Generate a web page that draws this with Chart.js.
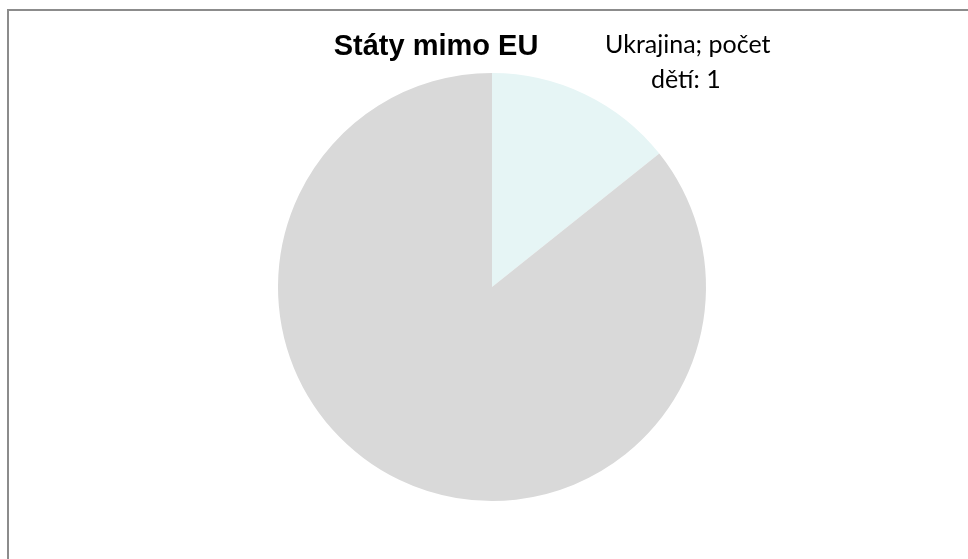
<!DOCTYPE html>
<html>
<head>
<meta charset="utf-8">
<script src="https://cdn.jsdelivr.net/npm/chart.js@4/dist/chart.umd.min.js"></script>
<style>
  html, body { margin: 0; padding: 0; background: #fff; }
  #wrap { width: 968px; height: 559px; position: relative; }
</style>
</head>
<body>
<div id="wrap"><canvas id="graf"></canvas></div>
<script>
const kategorie = ['Ukrajina', 'Ostatní'];
const pocetDeti = [1, 6];
const barvy = ['#E6F5F5', '#D9D9D9'];
const nadpis = 'Státy mimo EU';

// ramecek (jen horni a leva hrana, graf je oriznuty)
const ramecek = {
    id: 'ramecek',
    beforeDraw(chart) {
        const c = chart.ctx;
        c.save();
        c.strokeStyle = '#8C8C8C';
        c.lineWidth = 2;
        c.beginPath();
        c.moveTo(8, chart.height);
        c.lineTo(8, 10);
        c.lineTo(chart.width, 10);
        c.stroke();
        c.restore();
    }
};

// nadpis a popisek vysece
const popisky = {
    id: 'popisky',
    afterDraw(chart) {
        const c = chart.ctx;
        const arc = chart.getDatasetMeta(0).data[0];
        const { x, y, outerRadius } = arc.getProps(['x', 'y', 'outerRadius'], true);
        c.save();
        c.fillStyle = '#000';
        c.textAlign = 'center';
        c.textBaseline = 'alphabetic';
        c.font = 'bold 29px "Liberation Sans", Arial, sans-serif';
        c.fillText(nadpis, x - 56, 55);
        c.font = '25px Lato, "Open Sans", sans-serif';
        const lx = x + outerRadius * 0.915;
        const ly = y - outerRadius * 1.093;
        c.fillText(kategorie[0] + '; počet', lx, ly);
        c.fillText('dětí: ' + pocetDeti[0], lx - 2, ly + 35);
        c.restore();
    }
};

new Chart(document.getElementById('graf'), {
    type: 'pie',
    data: {
        labels: kategorie,
        datasets: [{
            data: pocetDeti,
            backgroundColor: barvy,
            borderWidth: 0
        }]
    },
    options: {
        responsive: true,
        maintainAspectRatio: false,
        animation: false,
        layout: { padding: { left: 16, top: 73, bottom: 58, right: 0 } },
        plugins: {
            legend: { display: false },
            tooltip: { enabled: false }
        }
    },
    plugins: [ramecek, popisky]
});
</script>
</body>
</html>
